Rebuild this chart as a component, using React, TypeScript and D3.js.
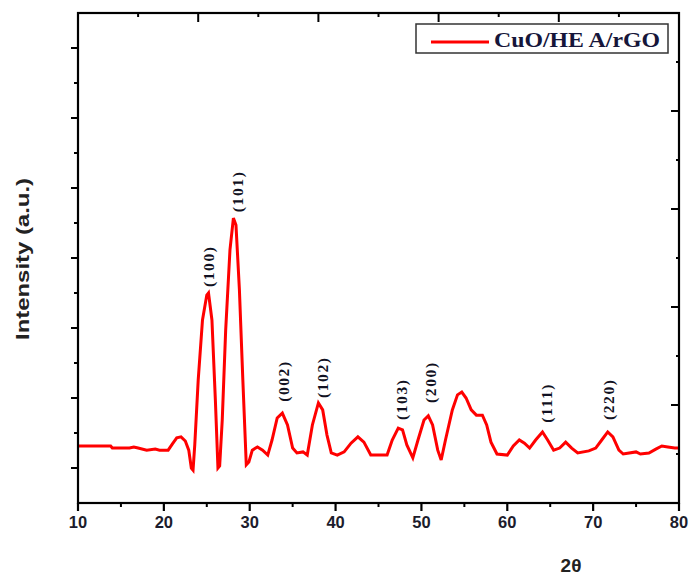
import React from "react";
import * as d3 from "d3";

const twoTheta = [
  10, 12, 13.8, 14, 16, 16.5, 17, 18, 19, 19.5, 20.5, 21, 21.5, 22, 22.5, 22.9, 23.2, 23.4, 23.6, 24,
  24.5, 25.0, 25.2, 25.6, 26, 26.3, 26.5, 26.8, 27.2, 27.7, 28.1, 28.4, 28.8, 29.2, 29.6, 29.9, 30.3,
  30.9, 31.5, 32.1, 32.6, 33.2, 33.8, 34.4, 35.0, 35.5, 36.2, 36.7, 37.3, 38.0, 38.5, 39.0, 39.5, 40.2,
  41, 41.8, 42.6, 43.3, 44.1, 46.0, 46.6, 47.3, 47.8, 48.3, 49.0, 49.6, 50.3, 50.8, 51.3, 51.9, 52.3,
  52.8, 53.6, 54.2, 54.7, 55.2, 55.8, 56.4, 57.1, 57.6, 58.1, 58.8, 60.0, 60.7, 61.4, 62.0, 62.6, 63.3,
  64.1, 64.7, 65.4, 66.1, 66.8, 67.5, 68.2, 69.5, 70.3, 71.0, 71.7, 72.3, 73.0, 73.5, 75, 75.5, 76.5,
  77.3, 78.0, 78.7, 79.5, 80,
];
const intensity = [
  163, 163, 163, 157, 157, 160, 157, 151, 154, 151, 151, 169, 186, 189, 177, 151, 100, 94, 166, 351,
  523, 594, 600, 523, 294, 100, 106, 237, 494, 723, 814, 794, 609, 351, 109, 117, 151,
  160, 151, 137, 180, 243, 257, 223, 157, 143, 146, 137, 223, 286, 266, 194, 143, 137,
  146, 171, 189, 174, 137, 137, 180, 214, 209, 166, 129, 180, 237, 249, 223, 151, 123,
  180, 266, 309, 317, 300, 266, 251, 251, 223, 174, 140, 137, 163, 180, 171, 157, 180,
  203, 180, 151, 157, 174, 157, 143, 149, 157, 180, 203, 189, 151, 140, 146, 140, 143,
  154, 163, 160, 157, 157,
];

const peakLabels = ["(100)", "(101)", "(002)", "(102)", "(103)", "(200)", "(111)", "(220)"];
const peakLabelTheta = [25.2, 28.57, 33.93, 38.47, 47.68, 51.0, 64.56, 71.78];
const peakLabelIntensity = [617, 831, 289, 300, 237, 286, 229, 237];

const xTickValues = [10, 20, 30, 40, 50, 60, 70, 80];
const xMinorValues = [15, 25, 35, 45, 55, 65, 75];
const yTickValues = [100, 200, 300, 400, 500, 600, 700, 800, 900, 1000, 1100, 1200, 1300];
const auxTicks = [1, 2, 3, 4, 5, 6, 7, 8, 9];

const seriesName = "CuO/HE A/rGO";
const xTitle = "2θ";
const yTitle = "Intensity (a.u.)";

const W = 692;
const H = 578;
const L = 78;
const R = 679;
const T = 13;
const B = 503;

export default function App() {
  const x = d3.scaleLinear().domain([10, 80]).range([L, R]);
  const y = d3.scaleLinear().domain([0, 1400]).range([B, T]);
  const xAux = d3.scaleLinear().domain([0, 10]).range([L, R]);
  const yAux = d3.scaleLinear().domain([0, 10]).range([B, T]);

  const pts: [number, number][] = twoTheta.map((t, i) => [t, intensity[i]]);
  const line = d3
    .line<[number, number]>()
    .x((d) => x(d[0]))
    .y((d) => y(d[1]))
    .curve(d3.curveLinear);

  const axisColor = "#000";
  const labelColor = "#1c1c2c";

  return (
    <svg
      width={W}
      height={H}
      style={{ position: "absolute", left: 0, top: 0, background: "#fff" }}
    >
      <rect x={0} y={0} width={W} height={H} fill="#fff" />
      {/* data line */}
      <path
        d={line(pts) || ""}
        fill="none"
        stroke="#ff0000"
        strokeWidth={3}
        strokeLinejoin="miter"
        strokeMiterlimit={3}
      />

      {/* frame */}
      <rect x={L} y={T} width={R - L} height={B - T} fill="none" stroke={axisColor} strokeWidth={2.2} />

      {/* bottom ticks (outward) */}
      {xTickValues.map((v) => (
        <line key={"bx" + v} x1={x(v)} x2={x(v)} y1={B} y2={B + 8} stroke={axisColor} strokeWidth={2.2} />
      ))}
      {xMinorValues.map((v) => (
        <line key={"bm" + v} x1={x(v)} x2={x(v)} y1={B} y2={B + 4} stroke={axisColor} strokeWidth={2} />
      ))}
      {/* bottom tick labels */}
      {xTickValues.map((v) => (
        <text
          key={"bl" + v}
          x={x(v)}
          y={528}
          textAnchor="middle"
          fontFamily="Liberation Sans, Arial, sans-serif"
          fontWeight="bold"
          fontSize={16.5}
          fill={labelColor}
        >
          {v}
        </text>
      ))}

      {/* left ticks (outward) */}
      {yTickValues.map((v) => {
        const major = (v / 100) % 2 === 1;
        return (
          <line
            key={"ly" + v}
            x1={L - (major ? 7 : 4)}
            x2={L}
            y1={y(v)}
            y2={y(v)}
            stroke={axisColor}
            strokeWidth={2}
          />
        );
      })}

      {/* top ticks (inward) */}
      {auxTicks.map((v) => (
        <line
          key={"tx" + v}
          x1={xAux(v)}
          x2={xAux(v)}
          y1={T}
          y2={T + (v % 2 === 0 ? 9 : 4)}
          stroke={axisColor}
          strokeWidth={2}
        />
      ))}
      {/* right ticks (inward) */}
      {auxTicks.map((v) => (
        <line
          key={"ry" + v}
          x1={R - (v % 2 === 0 ? 8 : 3)}
          x2={R}
          y1={yAux(v)}
          y2={yAux(v)}
          stroke={axisColor}
          strokeWidth={2}
        />
      ))}

      {/* peak labels */}
      {peakLabels.map((s, i) => (
        <text
          key={"pk" + i}
          transform={`translate(${x(peakLabelTheta[i])},${y(peakLabelIntensity[i])}) rotate(-90)`}
          textAnchor="start"
          dominantBaseline="central"
          fontFamily="Liberation Serif, Times New Roman, serif"
          fontWeight="bold"
          fontSize={15.5}
          letterSpacing={1.6}
          fill="#111122"
        >
          {s}
        </text>
      ))}

      {/* axis titles */}
      <text
        x={571}
        y={572}
        textAnchor="middle"
        fontFamily="Liberation Sans, Arial, sans-serif"
        fontWeight="bold"
        fontSize={19}
        fill="#222"
      >
        {xTitle}
      </text>
      <text
        transform={`translate(29,259) rotate(-90)`}
        textAnchor="middle"
        fontFamily="Liberation Sans, Arial, sans-serif"
        fontWeight="bold"
        fontSize={19}
        fill="#222"
        textLength={162}
        lengthAdjust="spacingAndGlyphs"
      >
        {yTitle}
      </text>

      {/* legend */}
      <rect x={416} y={24} width={252} height={29} fill="#fff" stroke="#333" strokeWidth={1.5} />
      <line x1={431} x2={489} y1={42} y2={42} stroke="#ff0000" strokeWidth={2.8} />
      <text
        x={494}
        y={47}
        fontFamily="Liberation Serif, Times New Roman, serif"
        fontWeight="bold"
        fontSize={21}
        fill="#16163a"
        textLength={166}
        lengthAdjust="spacingAndGlyphs"
      >
        {seriesName}
      </text>
    </svg>
  );
}
